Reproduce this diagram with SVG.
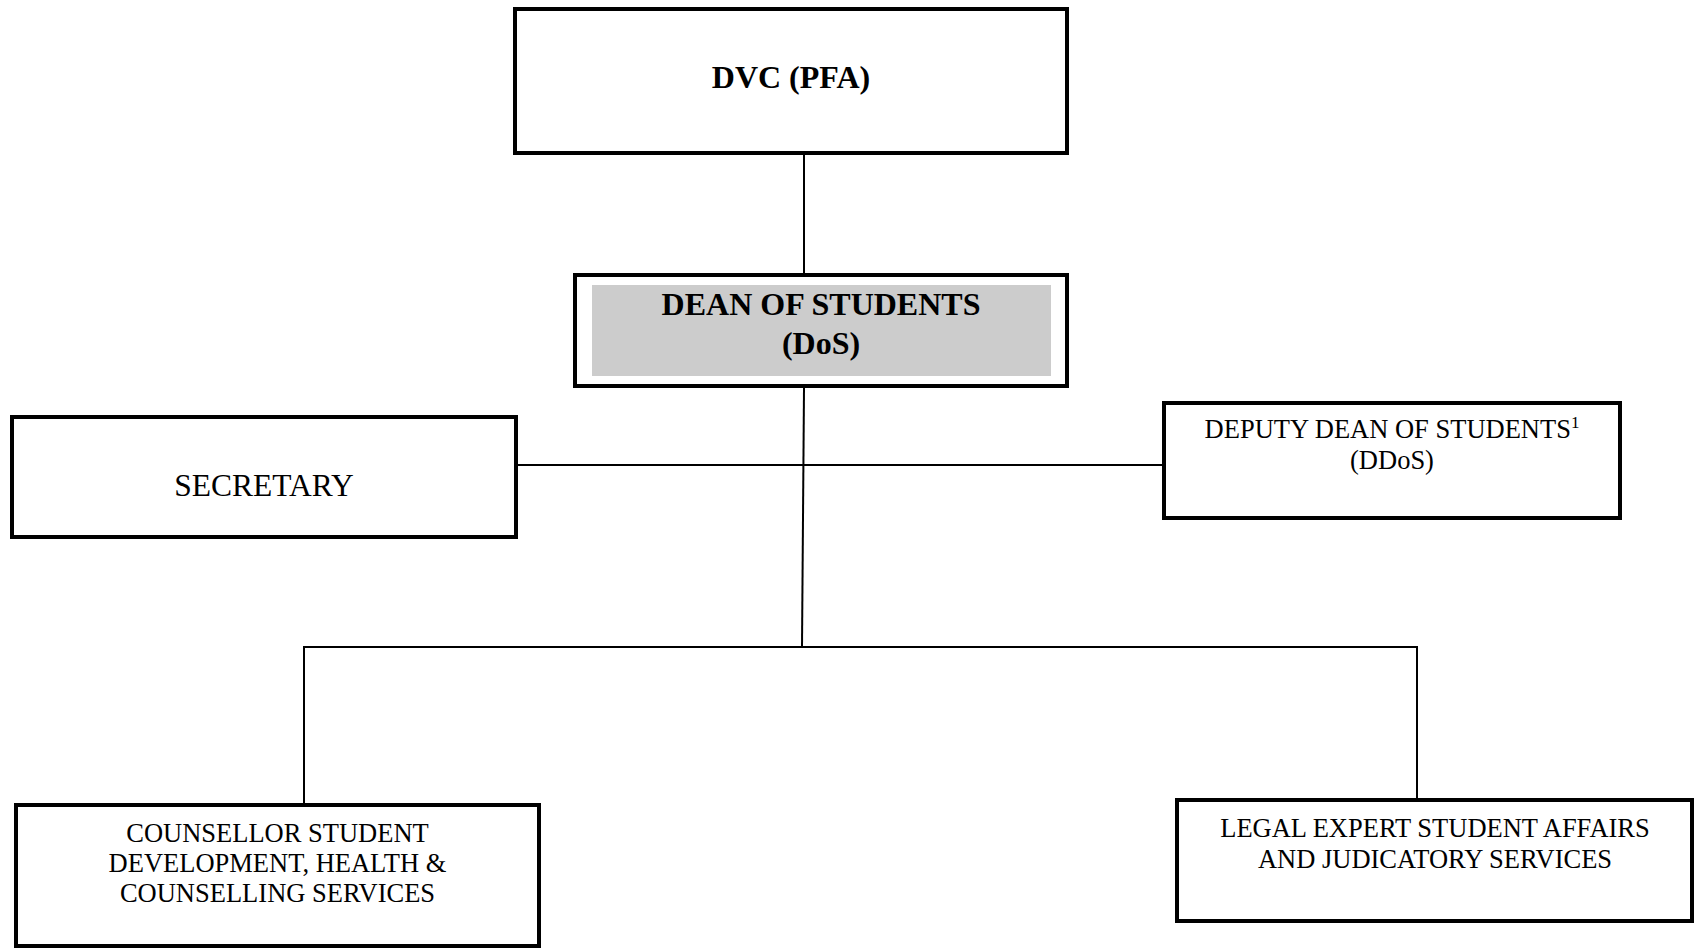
<svg xmlns="http://www.w3.org/2000/svg" width="1694" height="948" viewBox="0 0 1694 948">
  <style>
    .box { fill: #ffffff; stroke: #000000; stroke-width: 4; }
    .inner { fill: #cccccc; stroke: none; }
    .conn { stroke: #000000; stroke-width: 2; fill: none; }
    .bold { font-family: "Liberation Serif", "Times New Roman", serif; font-weight: bold; font-size: 32px; fill: #000000; text-anchor: middle; }
    .reg { font-family: "Liberation Serif", "Times New Roman", serif; font-size: 26.5px; fill: #000000; text-anchor: middle; }
    .big { font-family: "Liberation Serif", "Times New Roman", serif; font-size: 31.5px; fill: #000000; text-anchor: middle; }
  </style>
  <rect width="1694" height="948" fill="#ffffff"/>
  <g id="connectors">
    <line class="conn" x1="804" y1="153" x2="804" y2="273"/>
    <line class="conn" x1="804" y1="388" x2="802" y2="647"/>
    <line class="conn" x1="516" y1="465" x2="1167" y2="465"/>
    <line class="conn" x1="303" y1="647" x2="1418" y2="647"/>
    <line class="conn" x1="304" y1="646" x2="304" y2="804"/>
    <line class="conn" x1="1417" y1="646" x2="1417" y2="800"/>
  </g>
  <g id="dvc">
    <rect class="box" x="515" y="9" width="552" height="144"/>
    <text class="bold" x="791" y="88">DVC (PFA)</text>
  </g>
  <g id="dos">
    <rect class="box" x="575" y="275" width="492" height="111"/>
    <rect class="inner" x="592" y="285" width="459" height="91"/>
    <text class="bold" x="821" y="315">DEAN OF STUDENTS</text>
    <text class="bold" x="821" y="354">(DoS)</text>
  </g>
  <g id="secretary">
    <rect class="box" x="12" y="417" width="504" height="120"/>
    <text class="big" x="264" y="496">SECRETARY</text>
  </g>
  <g id="ddos">
    <rect class="box" x="1164" y="403" width="456" height="115"/>
    <text class="reg" x="1392" y="438">DEPUTY DEAN OF STUDENTS<tspan font-size="17" dy="-10">1</tspan></text>
    <text class="reg" x="1392" y="469">(DDoS)</text>
  </g>
  <g id="counsellor">
    <rect class="box" x="16" y="805" width="523" height="141"/>
    <text class="reg" x="277.5" y="842">COUNSELLOR STUDENT</text>
    <text class="reg" x="277.5" y="872">DEVELOPMENT, HEALTH &amp;</text>
    <text class="reg" x="277.5" y="902">COUNSELLING SERVICES</text>
  </g>
  <g id="legal">
    <rect class="box" x="1177" y="800" width="515" height="121"/>
    <text class="reg" x="1435" y="837">LEGAL EXPERT STUDENT AFFAIRS</text>
    <text class="reg" x="1435" y="868">AND JUDICATORY SERVICES</text>
  </g>
</svg>
